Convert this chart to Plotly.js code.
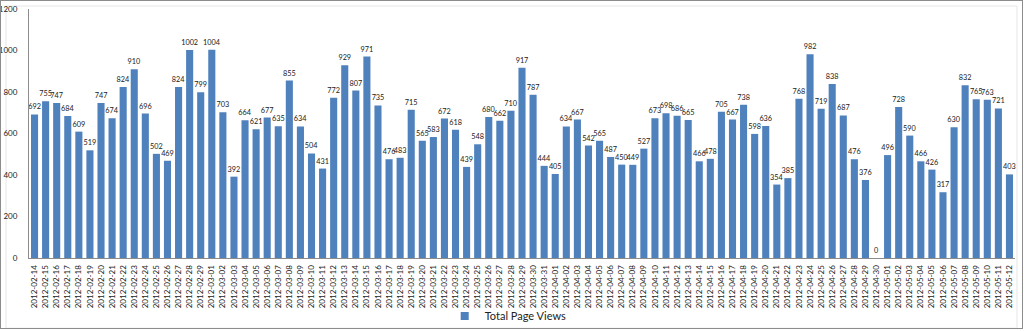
<!DOCTYPE html>
<html>
<head>
<meta charset="utf-8">
<script src="https://cdn.plot.ly/plotly-3.0.1.min.js"></script>
<style>
  html, body { margin: 0; padding: 0; background: #fff; }
  #wrap { position: relative; width: 1024px; height: 331px; }
  #chart { width: 1024px; height: 331px; }
  #frame { position: absolute; left: 0; top: 0; width: 1021px; height: 327px; border: 1px solid #8c8c8c; pointer-events: none; }
</style>
</head>
<body>
<div id="wrap"><div id="chart"></div><div id="frame"></div></div>
<script>
const dates = [
  "2012-02-14","2012-02-15","2012-02-16","2012-02-17","2012-02-18","2012-02-19","2012-02-20","2012-02-21","2012-02-22","2012-02-23","2012-02-24","2012-02-25","2012-02-26","2012-02-27","2012-02-28","2012-02-29",
  "2012-03-01","2012-03-02","2012-03-03","2012-03-04","2012-03-05","2012-03-06","2012-03-07","2012-03-08","2012-03-09","2012-03-10","2012-03-11","2012-03-12","2012-03-13","2012-03-14","2012-03-15","2012-03-16","2012-03-17","2012-03-18","2012-03-19","2012-03-20","2012-03-21","2012-03-22","2012-03-23","2012-03-24","2012-03-25","2012-03-26","2012-03-27","2012-03-28","2012-03-29","2012-03-30","2012-03-31",
  "2012-04-01","2012-04-02","2012-04-03","2012-04-04","2012-04-05","2012-04-06","2012-04-07","2012-04-08","2012-04-09","2012-04-10","2012-04-11","2012-04-12","2012-04-13","2012-04-14","2012-04-15","2012-04-16","2012-04-17","2012-04-18","2012-04-19","2012-04-20","2012-04-21","2012-04-22","2012-04-23","2012-04-24","2012-04-25","2012-04-26","2012-04-27","2012-04-28","2012-04-29","2012-04-30",
  "2012-05-01","2012-05-02","2012-05-03","2012-05-04","2012-05-05","2012-05-06","2012-05-07","2012-05-08","2012-05-09","2012-05-10","2012-05-11","2012-05-12"
];
const pageViews = [
  692,755,747,684,609,519,747,674,824,910,696,502,469,824,1002,799,
  1004,703,392,664,621,677,635,855,634,504,431,772,929,807,971,735,476,483,715,565,583,672,618,439,548,680,662,710,917,787,444,
  405,634,667,542,565,487,450,449,527,673,698,686,665,466,478,705,667,738,598,636,354,385,768,982,719,838,687,476,376,0,
  496,728,590,466,426,317,630,832,765,763,721,403
];
const yTicks = [0,200,400,600,800,1000,1200];
const seriesName = "Total Page Views";
const barColor = "#4F81BD";

const bars = {
  type: "bar",
  x: dates,
  y: pageViews,
  name: seriesName,
  marker: { color: barColor, line: { width: 0 } },
  text: pageViews.map(String),
  textposition: "outside",
  constraintext: "none",
  textfont: { family: "Lato, 'Liberation Sans', sans-serif", size: 7.3, color: "#222" },
  cliponaxis: false,
  hoverinfo: "x+y",
  showlegend: false
};

// legend-only entry (small square swatch like the original)
const legendEntry = {
  type: "scatter",
  mode: "markers",
  x: [null],
  y: [null],
  name: seriesName,
  marker: { symbol: "square", size: 8, color: barColor },
  hoverinfo: "skip",
  showlegend: true
};

const layout = {
  width: 1024,
  height: 331,
  margin: { l: 29, r: 9, t: 9, b: 73, pad: 0, autoexpand: false },
  paper_bgcolor: "#ffffff",
  plot_bgcolor: "#ffffff",
  bargap: 0.36,
  font: { family: "Lato, 'Liberation Sans', sans-serif", size: 8, color: "#222" },
  xaxis: {
    type: "category",
    tickangle: -90,
    showgrid: false,
    showline: true,
    linecolor: "#8c8c8c",
    linewidth: 1,
    ticks: "",
    tickfont: { size: 8, color: "#222" },
    ticklabelstandoff: 3,
    zeroline: false,
    automargin: false
  },
  yaxis: {
    range: [0, 1200],
    tickvals: yTicks,
    ticktext: yTicks.map(String),
    showgrid: false,
    showline: true,
    linecolor: "#8c8c8c",
    linewidth: 1,
    ticks: "",
    tickfont: { size: 8, color: "#222" },
    ticklabelstandoff: 9,
    zeroline: false,
    fixedrange: true,
    automargin: false
  },
  showlegend: true,
  legend: {
    orientation: "h",
    x: 0.486, xanchor: "center",
    yref: "container",
    y: 0.045, yanchor: "middle",
    font: { size: 11, color: "#222" },
    bgcolor: "rgba(0,0,0,0)",
    itemwidth: 30,
    tracegroupgap: 0
  },
  shapes: [
    { type: "rect", xref: "paper", yref: "paper", x0: -0.0233, x1: 1.0020, y0: -0.282, y1: 1.012,
      line: { color: "#e6e6e6", width: 1 }, fillcolor: "rgba(0,0,0,0)", layer: "below" }
  ]
};

Plotly.newPlot("chart", [bars, legendEntry], layout, { displayModeBar: false, staticPlot: true });
</script>
</body>
</html>
